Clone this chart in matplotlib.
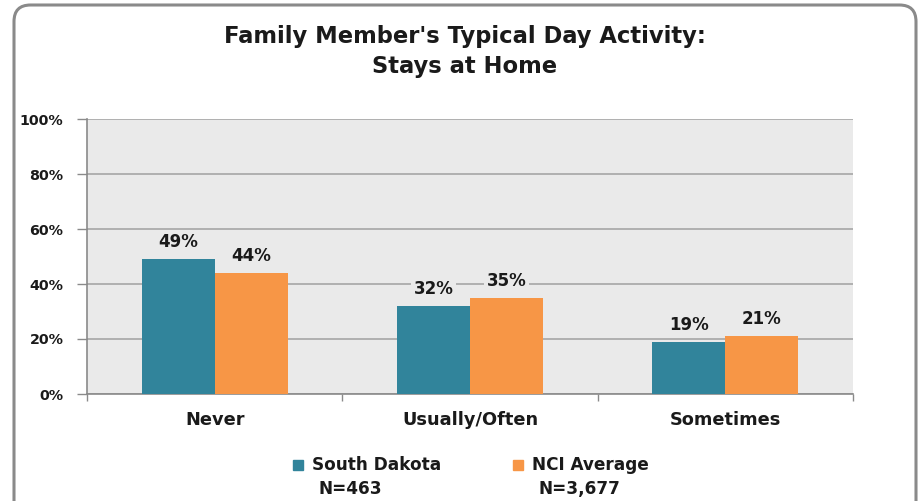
import matplotlib
matplotlib.use("Agg")
import matplotlib.pyplot as plt
import numpy as np
from matplotlib.patches import FancyBboxPatch

categories = ["Never", "Usually/Often", "Sometimes"]
south_dakota = [49, 32, 19]
nci_average = [44, 35, 21]
series_names = ["South Dakota", "NCI Average"]
series_n = ["N=463", "N=3,677"]
yticks = [0, 20, 40, 60, 80, 100]

teal = "#31849B"
orange = "#F79646"
plot_bg = "#EAEAEA"

fig = plt.figure(figsize=(9.19, 5.01), dpi=100)
fig.patch.set_facecolor("white")

# rounded border
border = FancyBboxPatch((14/919, -0.05), (916-14)/919, 1 - 5/501 + 0.05,
                        boxstyle="round,pad=0,rounding_size=0.018",
                        transform=fig.transFigure, fill=False,
                        edgecolor="#8a8a8a", linewidth=2.2, mutation_aspect=919/501)
fig.patches.append(border)

ax = fig.add_axes([87/919, 1-394/501, (853-87)/919, (394-119)/501])
ax.set_facecolor(plot_bg)

x = np.arange(len(categories))
w = 0.286
b1 = ax.bar(x - w/2, south_dakota, width=w, color=teal, zorder=3)
b2 = ax.bar(x + w/2, nci_average, width=w, color=orange, zorder=3)

for bars, vals in ((b1, south_dakota), (b2, nci_average)):
    for r, v in zip(bars, vals):
        ax.text(r.get_x() + r.get_width()/2, v + 3, f"{v}%", ha="center", va="bottom",
                fontsize=12, fontweight="bold", color="#1a1a1a", zorder=4,
                bbox=dict(facecolor=plot_bg, edgecolor="none", pad=2))

ax.set_xlim(-0.5, 2.5)
ax.set_ylim(0, 100)
ax.set_yticks(yticks)
ax.set_yticklabels([f"{t}%" for t in yticks], fontsize=10.3, fontweight="bold", color="#1a1a1a")
ax.yaxis.grid(True, color="#A6A6A6", linewidth=1.2, zorder=0)
ax.set_axisbelow(True)

ax.set_xticks([-0.5, 0.5, 1.5, 2.5])
ax.set_xticklabels([])
ax.set_xticks(x, minor=True)
ax.set_xticklabels(categories, minor=True, fontsize=12.8, fontweight="bold", color="#1a1a1a")
ax.tick_params(axis="x", which="minor", length=0, pad=12)
ax.tick_params(axis="x", which="major", length=5, color="#8a8a8a", width=1.0)
ax.tick_params(axis="y", length=7, color="#8a8a8a", width=1.0, pad=10)

for s in ["top", "right"]:
    ax.spines[s].set_visible(False)
for s in ["left", "bottom"]:
    ax.spines[s].set_color("#8a8a8a")
    ax.spines[s].set_linewidth(1.2)

fig.text(465/919, 1-37/501, "Family Member's Typical Day Activity:", ha="center", va="center",
         fontsize=16.3, fontweight="bold", color="#1a1a1a")
fig.text(465/919, 1-67/501, "Stays at Home", ha="center", va="center",
         fontsize=16.3, fontweight="bold", color="#1a1a1a")

# legend
leg = [(293, teal, series_names[0], series_n[0], 318), (513, orange, series_names[1], series_n[1], 538)]
for xs, c, name, n, nx in leg:
    fig.patches.append(plt.Rectangle((xs/919, 1-470/501), 10/919, 10/501,
                                     transform=fig.transFigure, color=c))
    fig.text((xs+19)/919, 1-465/501, name, ha="left", va="center", fontsize=12.2,
             fontweight="bold", color="#1a1a1a")
    fig.text(nx/919, 1-489/501, n, ha="left", va="center", fontsize=12.2,
             fontweight="bold", color="#1a1a1a")

fig.savefig("out.png", dpi=100)
